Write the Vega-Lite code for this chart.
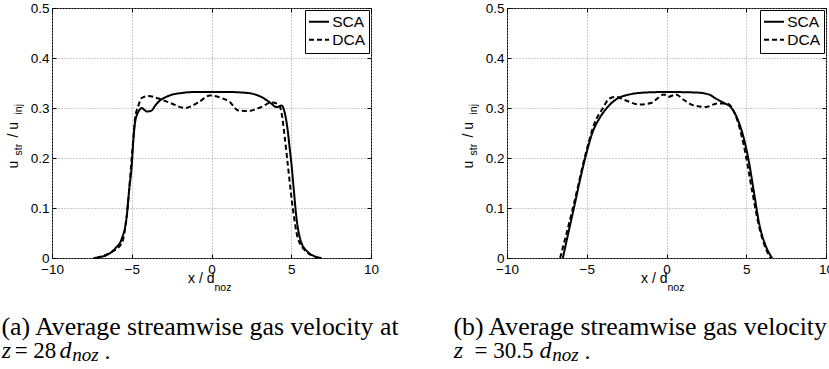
{
  "$schema": "https://vega.github.io/schema/vega-lite/v6.json",
  "background": "white",
  "padding": 0,
  "spacing": 52,
  "resolve": {"scale": {"strokeDash": "independent"}, "legend": {"strokeDash": "independent"}},
  "datasets": {
    "a": [
      {"x": -7.4, "u": 0, "model": "SCA"}, {"x": -7.0, "u": 0.002, "model": "SCA"}, {"x": -6.5, "u": 0.007, "model": "SCA"}, {"x": -6.04, "u": 0.019, "model": "SCA"}, {"x": -5.62, "u": 0.039, "model": "SCA"}, {"x": -5.31, "u": 0.085, "model": "SCA"}, {"x": -5.15, "u": 0.14, "model": "SCA"}, {"x": -5.0, "u": 0.185, "model": "SCA"}, {"x": -4.9, "u": 0.235, "model": "SCA"}, {"x": -4.79, "u": 0.272, "model": "SCA"}, {"x": -4.54, "u": 0.295, "model": "SCA"}, {"x": -4.38, "u": 0.3, "model": "SCA"}, {"x": -4.2, "u": 0.296, "model": "SCA"}, {"x": -4.06, "u": 0.293, "model": "SCA"}, {"x": -3.75, "u": 0.295, "model": "SCA"}, {"x": -3.55, "u": 0.304, "model": "SCA"}, {"x": -3.33, "u": 0.312, "model": "SCA"}, {"x": -2.71, "u": 0.324, "model": "SCA"}, {"x": -1.88, "u": 0.33, "model": "SCA"}, {"x": -1.0, "u": 0.332, "model": "SCA"}, {"x": 0, "u": 0.332, "model": "SCA"}, {"x": 1.0, "u": 0.332, "model": "SCA"}, {"x": 2.29, "u": 0.33, "model": "SCA"}, {"x": 3.13, "u": 0.322, "model": "SCA"}, {"x": 3.75, "u": 0.309, "model": "SCA"}, {"x": 4.06, "u": 0.302, "model": "SCA"}, {"x": 4.25, "u": 0.303, "model": "SCA"}, {"x": 4.38, "u": 0.305, "model": "SCA"}, {"x": 4.58, "u": 0.292, "model": "SCA"}, {"x": 4.79, "u": 0.252, "model": "SCA"}, {"x": 4.9, "u": 0.22, "model": "SCA"}, {"x": 5.0, "u": 0.192, "model": "SCA"}, {"x": 5.15, "u": 0.14, "model": "SCA"}, {"x": 5.31, "u": 0.085, "model": "SCA"}, {"x": 5.62, "u": 0.032, "model": "SCA"}, {"x": 6.04, "u": 0.012, "model": "SCA"}, {"x": 6.5, "u": 0.003, "model": "SCA"}, {"x": 6.9, "u": 0, "model": "SCA"},
      {"x": -7.2, "u": 0, "model": "DCA"}, {"x": -6.8, "u": 0.004, "model": "DCA"}, {"x": -6.25, "u": 0.012, "model": "DCA"}, {"x": -5.62, "u": 0.03, "model": "DCA"}, {"x": -5.31, "u": 0.085, "model": "DCA"}, {"x": -5.04, "u": 0.185, "model": "DCA"}, {"x": -4.9, "u": 0.24, "model": "DCA"}, {"x": -4.79, "u": 0.279, "model": "DCA"}, {"x": -4.58, "u": 0.305, "model": "DCA"}, {"x": -4.38, "u": 0.32, "model": "DCA"}, {"x": -3.96, "u": 0.324, "model": "DCA"}, {"x": -3.33, "u": 0.319, "model": "DCA"}, {"x": -2.5, "u": 0.309, "model": "DCA"}, {"x": -1.67, "u": 0.3, "model": "DCA"}, {"x": -0.83, "u": 0.311, "model": "DCA"}, {"x": -0.1, "u": 0.325, "model": "DCA"}, {"x": 0.62, "u": 0.32, "model": "DCA"}, {"x": 1.15, "u": 0.312, "model": "DCA"}, {"x": 1.67, "u": 0.295, "model": "DCA"}, {"x": 2.29, "u": 0.294, "model": "DCA"}, {"x": 3.13, "u": 0.302, "model": "DCA"}, {"x": 3.75, "u": 0.311, "model": "DCA"}, {"x": 4.17, "u": 0.308, "model": "DCA"}, {"x": 4.38, "u": 0.292, "model": "DCA"}, {"x": 4.58, "u": 0.245, "model": "DCA"}, {"x": 4.79, "u": 0.185, "model": "DCA"}, {"x": 5.1, "u": 0.099, "model": "DCA"}, {"x": 5.42, "u": 0.039, "model": "DCA"}, {"x": 5.94, "u": 0.013, "model": "DCA"}, {"x": 6.46, "u": 0.003, "model": "DCA"}, {"x": 6.7, "u": 0, "model": "DCA"}
    ],
    "b": [
      {"x": -6.5, "u": 0, "model": "SCA"}, {"x": -6.19, "u": 0.045, "model": "SCA"}, {"x": -5.77, "u": 0.105, "model": "SCA"}, {"x": -5.36, "u": 0.165, "model": "SCA"}, {"x": -5.0, "u": 0.212, "model": "SCA"}, {"x": -4.63, "u": 0.252, "model": "SCA"}, {"x": -4.21, "u": 0.279, "model": "SCA"}, {"x": -3.69, "u": 0.302, "model": "SCA"}, {"x": -3.17, "u": 0.317, "model": "SCA"}, {"x": -2.33, "u": 0.327, "model": "SCA"}, {"x": -1.29, "u": 0.331, "model": "SCA"}, {"x": 0, "u": 0.332, "model": "SCA"}, {"x": 1.83, "u": 0.331, "model": "SCA"}, {"x": 2.67, "u": 0.327, "model": "SCA"}, {"x": 3.08, "u": 0.319, "model": "SCA"}, {"x": 3.6, "u": 0.31, "model": "SCA"}, {"x": 4.02, "u": 0.302, "model": "SCA"}, {"x": 4.44, "u": 0.279, "model": "SCA"}, {"x": 4.85, "u": 0.239, "model": "SCA"}, {"x": 5.17, "u": 0.192, "model": "SCA"}, {"x": 5.48, "u": 0.132, "model": "SCA"}, {"x": 5.79, "u": 0.072, "model": "SCA"}, {"x": 6.21, "u": 0.025, "model": "SCA"}, {"x": 6.63, "u": 0, "model": "SCA"},
      {"x": -6.67, "u": 0, "model": "DCA"}, {"x": -6.3, "u": 0.045, "model": "DCA"}, {"x": -5.83, "u": 0.105, "model": "DCA"}, {"x": -5.04, "u": 0.212, "model": "DCA"}, {"x": -4.52, "u": 0.269, "model": "DCA"}, {"x": -4.0, "u": 0.299, "model": "DCA"}, {"x": -3.58, "u": 0.319, "model": "DCA"}, {"x": -3.17, "u": 0.322, "model": "DCA"}, {"x": -2.54, "u": 0.315, "model": "DCA"}, {"x": -1.71, "u": 0.307, "model": "DCA"}, {"x": -0.98, "u": 0.31, "model": "DCA"}, {"x": -0.15, "u": 0.327, "model": "DCA"}, {"x": 0.1, "u": 0.322, "model": "DCA"}, {"x": 0.58, "u": 0.327, "model": "DCA"}, {"x": 1.1, "u": 0.316, "model": "DCA"}, {"x": 1.63, "u": 0.306, "model": "DCA"}, {"x": 2.46, "u": 0.302, "model": "DCA"}, {"x": 3.19, "u": 0.309, "model": "DCA"}, {"x": 3.81, "u": 0.309, "model": "DCA"}, {"x": 4.33, "u": 0.285, "model": "DCA"}, {"x": 4.85, "u": 0.225, "model": "DCA"}, {"x": 5.38, "u": 0.132, "model": "DCA"}, {"x": 5.79, "u": 0.065, "model": "DCA"}, {"x": 6.21, "u": 0.02, "model": "DCA"}, {"x": 6.52, "u": 0, "model": "DCA"}
    ]
  },
  "hconcat": [
    {
      "width": 319,
      "height": 250,
      "resolve": {"axis": {"x": "independent", "y": "independent"}},
      "layer": [
        {
          "data": {"name": "a"},
          "mark": {"type": "line", "color": "black", "strokeWidth": 2, "interpolate": "monotone"},
          "encoding": {
            "x": {"field": "x", "type": "quantitative", "scale": {"domain": [-10, 10], "nice": false, "zero": false},
              "axis": {"orient": "bottom", "values": [-10, -5, 0, 5, 10], "grid": true, "ticks": false, "labels": true, "labelPadding": 4, "labelExpr": "datum.value < 0 ? datum.label + '\u00a0\u00a0' : datum.label", "title": "x / d", "titleX": 162, "titleY": 24, "titleAlign": "right", "titleBaseline": "alphabetic", "titleAngle": 0}},
            "y": {"field": "u", "type": "quantitative", "scale": {"domain": [0, 0.5], "nice": false, "zero": false},
              "axis": {"orient": "left", "values": [0, 0.1, 0.2, 0.3, 0.4, 0.5], "format": ".1~f", "grid": true, "ticks": false, "labelPadding": 3, "title": "u", "titleX": -35, "titleY": 160, "titleAngle": -90, "titleAlign": "left", "titleBaseline": "alphabetic"}},
            "strokeDash": {"field": "model", "type": "nominal", "scale": {"domain": ["SCA", "DCA"], "range": [[1, 0], [5, 3]]},
              "legend": {"orient": "top-right", "offset": 2, "title": null, "fillColor": "white", "strokeColor": "black", "padding": 4, "symbolType": "M-2,0L2,0", "symbolSize": 100, "symbolOffset": 2.25, "symbolStrokeWidth": 2, "symbolStrokeColor": "black", "symbolFillColor": "transparent", "labelFont": "Liberation Sans", "labelFontSize": 15.5, "labelColor": "black", "labelOffset": 5.5, "rowPadding": 1}}
          }
        },
        {
          "data": {"values": []},
          "mark": "point",
          "encoding": {
            "x": {"field": "x", "type": "quantitative", "scale": {"domain": [-10, 10], "nice": false, "zero": false},
              "axis": {"orient": "bottom", "values": [-10, -5, 0, 5, 10], "grid": false, "labels": false, "ticks": true, "tickSize": -4, "title": "noz", "titleFontSize": 10.5, "titleX": 162, "titleY": 32, "titleAlign": "left", "titleBaseline": "alphabetic", "titleAngle": 0}},
            "y": {"field": "u", "type": "quantitative", "scale": {"domain": [0, 0.5], "nice": false, "zero": false},
              "axis": {"orient": "left", "values": [0, 0.1, 0.2, 0.3, 0.4, 0.5], "grid": false, "labels": false, "ticks": true, "tickSize": -4, "title": "str", "titleFontSize": 10.5, "titleX": -31, "titleY": 147, "titleAngle": -90, "titleAlign": "left", "titleBaseline": "alphabetic"}}
          }
        },
        {
          "data": {"values": []},
          "mark": "point",
          "encoding": {
            "x": {"field": "x", "type": "quantitative", "scale": {"domain": [-10, 10], "nice": false, "zero": false},
              "axis": {"orient": "bottom", "grid": false, "labels": false, "ticks": false, "title": "(a) Average streamwise gas velocity at", "titleFont": "Liberation Serif", "titleFontSize": 25.8, "titleX": -51, "titleY": 76, "titleAlign": "left", "titleBaseline": "alphabetic", "titleAngle": 0}},
            "y": {"field": "u", "type": "quantitative", "scale": {"domain": [0, 0.5], "nice": false, "zero": false},
              "axis": {"orient": "left", "grid": false, "labels": false, "ticks": false, "title": "/ u", "titleX": -35, "titleY": 129, "titleAngle": -90, "titleAlign": "left", "titleBaseline": "alphabetic"}}
          }
        },
        {
          "data": {"values": []},
          "mark": "point",
          "encoding": {
            "x": {"field": "x", "type": "quantitative", "scale": {"domain": [-10, 10], "nice": false, "zero": false},
              "axis": {"orient": "bottom", "grid": false, "labels": false, "ticks": false, "title": "z", "titleFont": "Liberation Serif", "titleFontStyle": "italic", "titleFontSize": 24, "titleX": -46, "titleY": 99, "titleAlign": "center", "titleBaseline": "alphabetic", "titleAngle": 0}},
            "y": {"field": "u", "type": "quantitative", "scale": {"domain": [0, 0.5], "nice": false, "zero": false},
              "axis": {"orient": "left", "grid": false, "labels": false, "ticks": false, "title": "inj", "titleFontSize": 10.5, "titleX": -31, "titleY": 106, "titleAngle": -90, "titleAlign": "left", "titleBaseline": "alphabetic"}}
          }
        },
        {
          "data": {"values": []},
          "mark": "point",
          "encoding": {
            "x": {"field": "x", "type": "quantitative", "scale": {"domain": [-10, 10], "nice": false, "zero": false},
              "axis": {"orient": "bottom", "grid": false, "labels": false, "ticks": false, "title": "d", "titleFont": "Liberation Serif", "titleFontStyle": "italic", "titleFontSize": 24, "titleX": 13, "titleY": 99, "titleAlign": "center", "titleBaseline": "alphabetic", "titleAngle": 0}},
            "y": {"field": "u", "type": "quantitative", "scale": {"domain": [0, 0.5], "nice": false, "zero": false},
              "axis": {"orient": "right", "values": [0, 0.1, 0.2, 0.3, 0.4, 0.5], "grid": false, "labels": false, "ticks": true, "tickSize": -4, "title": "= 28", "titleFont": "Liberation Serif", "titleFontSize": 23, "titleX": -336, "titleY": 349, "titleAngle": 0, "titleAlign": "center", "titleBaseline": "alphabetic"}}
          }
        },
        {
          "data": {"values": []},
          "mark": "point",
          "encoding": {
            "x": {"field": "x", "type": "quantitative", "scale": {"domain": [-10, 10], "nice": false, "zero": false},
              "axis": {"orient": "top", "values": [-10, -5, 0, 5, 10], "grid": false, "labels": false, "ticks": true, "tickSize": -4, "title": "noz", "titleFont": "Liberation Serif", "titleFontStyle": "italic", "titleFontSize": 19, "titleX": 33, "titleY": 352, "titleAlign": "center", "titleBaseline": "alphabetic", "titleAngle": 0}},
            "y": {"field": "u", "type": "quantitative", "scale": {"domain": [0, 0.5], "nice": false, "zero": false},
              "axis": {"orient": "left", "grid": false, "labels": false, "ticks": false, "title": ".", "titleFont": "Liberation Serif", "titleFontSize": 24, "titleX": 55, "titleY": 350, "titleAngle": 0, "titleAlign": "center", "titleBaseline": "alphabetic"}}
          }
        }
      ]
    },
    {
      "width": 319,
      "height": 250,
      "resolve": {"axis": {"x": "independent", "y": "independent"}},
      "layer": [
        {
          "data": {"name": "b"},
          "mark": {"type": "line", "color": "black", "strokeWidth": 2, "interpolate": "monotone"},
          "encoding": {
            "x": {"field": "x", "type": "quantitative", "scale": {"domain": [-10, 10], "nice": false, "zero": false},
              "axis": {"orient": "bottom", "values": [-10, -5, 0, 5, 10], "grid": true, "ticks": false, "labels": true, "labelPadding": 4, "labelExpr": "datum.value < 0 ? datum.label + '\u00a0\u00a0' : datum.label", "title": "x / d", "titleX": 160, "titleY": 24, "titleAlign": "right", "titleBaseline": "alphabetic", "titleAngle": 0}},
            "y": {"field": "u", "type": "quantitative", "scale": {"domain": [0, 0.5], "nice": false, "zero": false},
              "axis": {"orient": "left", "values": [0, 0.1, 0.2, 0.3, 0.4, 0.5], "format": ".1~f", "grid": true, "ticks": false, "labelPadding": 3, "title": "u", "titleX": -35, "titleY": 160, "titleAngle": -90, "titleAlign": "left", "titleBaseline": "alphabetic"}},
            "strokeDash": {"field": "model", "type": "nominal", "scale": {"domain": ["SCA", "DCA"], "range": [[1, 0], [5, 3]]},
              "legend": {"orient": "top-right", "offset": 2, "title": null, "fillColor": "white", "strokeColor": "black", "padding": 4, "symbolType": "M-2,0L2,0", "symbolSize": 100, "symbolOffset": 2.25, "symbolStrokeWidth": 2, "symbolStrokeColor": "black", "symbolFillColor": "transparent", "labelFont": "Liberation Sans", "labelFontSize": 15.5, "labelColor": "black", "labelOffset": 5.5, "rowPadding": 1}}
          }
        },
        {
          "data": {"values": []},
          "mark": "point",
          "encoding": {
            "x": {"field": "x", "type": "quantitative", "scale": {"domain": [-10, 10], "nice": false, "zero": false},
              "axis": {"orient": "bottom", "values": [-10, -5, 0, 5, 10], "grid": false, "labels": false, "ticks": true, "tickSize": -4, "title": "noz", "titleFontSize": 10.5, "titleX": 160, "titleY": 32, "titleAlign": "left", "titleBaseline": "alphabetic", "titleAngle": 0}},
            "y": {"field": "u", "type": "quantitative", "scale": {"domain": [0, 0.5], "nice": false, "zero": false},
              "axis": {"orient": "left", "values": [0, 0.1, 0.2, 0.3, 0.4, 0.5], "grid": false, "labels": false, "ticks": true, "tickSize": -4, "title": "str", "titleFontSize": 10.5, "titleX": -31, "titleY": 147, "titleAngle": -90, "titleAlign": "left", "titleBaseline": "alphabetic"}}
          }
        },
        {
          "data": {"values": []},
          "mark": "point",
          "encoding": {
            "x": {"field": "x", "type": "quantitative", "scale": {"domain": [-10, 10], "nice": false, "zero": false},
              "axis": {"orient": "bottom", "grid": false, "labels": false, "ticks": false, "title": "(b) Average streamwise gas velocity", "titleFont": "Liberation Serif", "titleFontSize": 25.8, "titleX": -54, "titleY": 76, "titleAlign": "left", "titleBaseline": "alphabetic", "titleAngle": 0}},
            "y": {"field": "u", "type": "quantitative", "scale": {"domain": [0, 0.5], "nice": false, "zero": false},
              "axis": {"orient": "left", "grid": false, "labels": false, "ticks": false, "title": "/ u", "titleX": -35, "titleY": 129, "titleAngle": -90, "titleAlign": "left", "titleBaseline": "alphabetic"}}
          }
        },
        {
          "data": {"values": []},
          "mark": "point",
          "encoding": {
            "x": {"field": "x", "type": "quantitative", "scale": {"domain": [-10, 10], "nice": false, "zero": false},
              "axis": {"orient": "bottom", "grid": false, "labels": false, "ticks": false, "title": "z", "titleFont": "Liberation Serif", "titleFontStyle": "italic", "titleFontSize": 24, "titleX": -49, "titleY": 99, "titleAlign": "center", "titleBaseline": "alphabetic", "titleAngle": 0}},
            "y": {"field": "u", "type": "quantitative", "scale": {"domain": [0, 0.5], "nice": false, "zero": false},
              "axis": {"orient": "left", "grid": false, "labels": false, "ticks": false, "title": "inj", "titleFontSize": 10.5, "titleX": -31, "titleY": 106, "titleAngle": -90, "titleAlign": "left", "titleBaseline": "alphabetic"}}
          }
        },
        {
          "data": {"values": []},
          "mark": "point",
          "encoding": {
            "x": {"field": "x", "type": "quantitative", "scale": {"domain": [-10, 10], "nice": false, "zero": false},
              "axis": {"orient": "bottom", "grid": false, "labels": false, "ticks": false, "title": "d", "titleFont": "Liberation Serif", "titleFontStyle": "italic", "titleFontSize": 24, "titleX": 38, "titleY": 99, "titleAlign": "center", "titleBaseline": "alphabetic", "titleAngle": 0}},
            "y": {"field": "u", "type": "quantitative", "scale": {"domain": [0, 0.5], "nice": false, "zero": false},
              "axis": {"orient": "right", "values": [0, 0.1, 0.2, 0.3, 0.4, 0.5], "grid": false, "labels": false, "ticks": true, "tickSize": -4, "title": "= 30.5", "titleFont": "Liberation Serif", "titleFontSize": 23, "titleX": -322.5, "titleY": 349, "titleAngle": 0, "titleAlign": "center", "titleBaseline": "alphabetic"}}
          }
        },
        {
          "data": {"values": []},
          "mark": "point",
          "encoding": {
            "x": {"field": "x", "type": "quantitative", "scale": {"domain": [-10, 10], "nice": false, "zero": false},
              "axis": {"orient": "top", "values": [-10, -5, 0, 5, 10], "grid": false, "labels": false, "ticks": true, "tickSize": -4, "title": "noz", "titleFont": "Liberation Serif", "titleFontStyle": "italic", "titleFontSize": 19, "titleX": 58, "titleY": 352, "titleAlign": "center", "titleBaseline": "alphabetic", "titleAngle": 0}},
            "y": {"field": "u", "type": "quantitative", "scale": {"domain": [0, 0.5], "nice": false, "zero": false},
              "axis": {"orient": "left", "grid": false, "labels": false, "ticks": false, "title": ".", "titleFont": "Liberation Serif", "titleFontSize": 24, "titleX": 80, "titleY": 350, "titleAngle": 0, "titleAlign": "center", "titleBaseline": "alphabetic"}}
          }
        }
      ]
    }
  ],
  "config": {
    "font": "Liberation Sans",
    "view": {"stroke": "black", "strokeWidth": 1},
    "axis": {
      "domain": false,
      "labelFont": "Liberation Sans",
      "labelFontSize": 13.5,
      "labelColor": "black",
      "labelFlush": false,
      "labelOverlap": false,
      "titleFont": "Liberation Sans",
      "titleFontSize": 14,
      "titleFontWeight": "normal",
      "titleColor": "black",
      "gridColor": "#9a9a9a",
      "gridDash": [1, 2],
      "gridWidth": 1,
      "gridOpacity": 1,
      "tickColor": "black",
      "tickWidth": 1
    }
  }
}
